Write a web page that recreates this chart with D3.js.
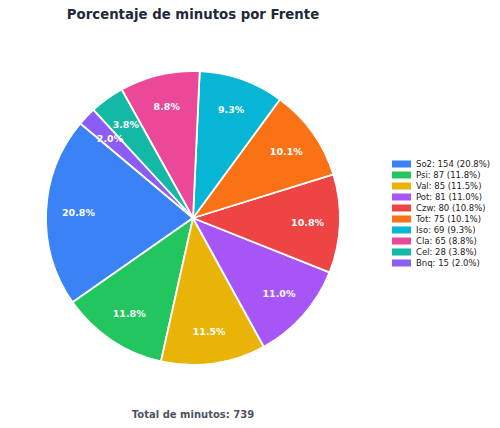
<!DOCTYPE html>
<html>
<head>
<meta charset="utf-8">
<script src="https://cdn.jsdelivr.net/npm/d3@7"></script>
<style>
  body { margin: 0; background: #fff; }
  svg { display: block; font-family: "DejaVu Sans", sans-serif; }
</style>
</head>
<body>
<svg id="chart" width="500" height="428"></svg>
<script>
// data
const frentes = ["So2", "Psi", "Val", "Pot", "Czw", "Tot", "Iso", "Cla", "Cel", "Bnq"];
const minutos = [154, 87, 85, 81, 80, 75, 69, 65, 28, 15];
const colores = ["#3b82f6", "#22c55e", "#eab308", "#a855f7", "#ef4444",
                 "#f97316", "#06b6d4", "#ec4899", "#14b8a6", "#8b5cf6"];

const total = d3.sum(minutos);
const rows = frentes.map((f, i) => ({ name: f, value: minutos[i], color: colores[i] }));

const svg = d3.select("#chart");
const cx = 193, cy = 218, r = 147;

// title
svg.append("text")
  .attr("x", 193).attr("y", 19)
  .attr("text-anchor", "middle")
  .style("font-size", "13.3px")
  .style("font-weight", "bold")
  .style("fill", "#1e293b")
  .text("Porcentaje de minutos por Frente");

// pie: counterclockwise starting at 140deg (matplotlib style)
// d3 angles are clockwise from 12 o'clock, so angle = 90 - deg
const start = (90 - 140) * Math.PI / 180;
const pie = d3.pie()
  .value(d => d.value)
  .sort(null)
  .startAngle(start)
  .endAngle(start - 2 * Math.PI);

const arc = d3.arc().innerRadius(0).outerRadius(r);
const labelArc = d3.arc().innerRadius(r * 0.78).outerRadius(r * 0.78);

const g = svg.append("g").attr("transform", `translate(${cx},${cy})`);

g.selectAll("path")
  .data(pie(rows))
  .enter()
  .append("path")
  .attr("d", arc)
  .attr("fill", d => d.data.color)
  .attr("stroke", "#fff")
  .attr("stroke-width", 1.8)
  .attr("stroke-linejoin", "round");

g.selectAll(".pct")
  .data(pie(rows))
  .enter()
  .append("text")
  .classed("pct", true)
  .attr("transform", d => `translate(${labelArc.centroid(d)})`)
  .attr("text-anchor", "middle")
  .attr("dy", "0.35em")
  .style("font-size", "9.5px")
  .style("font-weight", "bold")
  .style("fill", "#fff")
  .text(d => (d.data.value / total * 100).toFixed(1) + "%");

// legend
const legend = svg.append("g").attr("transform", "translate(392,164)");
const item = legend.selectAll("g")
  .data(rows)
  .enter()
  .append("g")
  .attr("transform", (d, i) => `translate(0,${i * 11})`);

item.append("rect")
  .attr("x", 0).attr("y", -3.5)
  .attr("width", 19).attr("height", 7)
  .attr("fill", d => d.color);

item.append("text")
  .attr("x", 24).attr("dy", "0.35em")
  .style("font-size", "8.5px")
  .style("fill", "#222")
  .text(d => `${d.name}: ${d.value} (${(d.value / total * 100).toFixed(1)}%)`);

// footer
svg.append("text")
  .attr("x", 193).attr("y", 418)
  .attr("text-anchor", "middle")
  .style("font-size", "10px")
  .style("font-weight", "bold")
  .style("fill", "#4b5563")
  .text("Total de minutos: " + total);
</script>
</body>
</html>
